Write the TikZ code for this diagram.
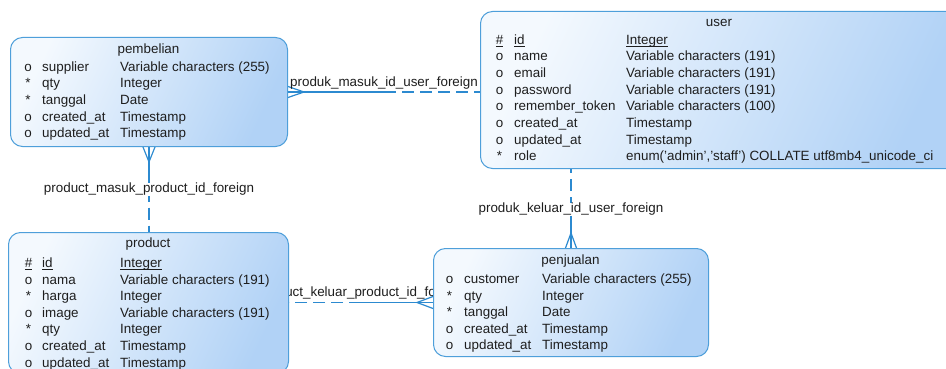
\documentclass[tikz,border=0pt]{standalone}
\usepackage{fontspec}
\setmainfont{Liberation Sans}
\usetikzlibrary{calc}
\definecolor{edgeblue}{HTML}{4E9FDA}
\definecolor{lnkblue}{HTML}{2C8AD0}
\definecolor{boxlight}{HTML}{F4F9FE}
\definecolor{boxdark}{HTML}{B1D2F6}
\definecolor{txt}{HTML}{1E1E1E}
\pgfdeclarelayer{bg}
\pgfsetlayers{bg,main}
\newcommand\pkul[1]{\setbox0\hbox{#1}\rlap{\rule[-2.6pt]{\wd0}{0.7pt}}\box0}
\newcommand\erow[8]{%
  \node[mk] (#1m) at (#2,#5) {#6};
  \node[cell] (#1n) at (#3,#5) {#7};
  \node[cell] (#1t) at (#4,#5) {#8};}
\tikzset{
  entity/.style={draw=edgeblue, line width=1pt, rounded corners=12pt,
    top color=boxlight, bottom color=boxdark, shading angle=65,
    inner sep=0pt, anchor=north west},
  txtbase/.style={inner sep=0pt, text height=9.6pt, text depth=2.8pt,
    font=\fontsize{13.4}{16}\selectfont, text=txt},
  cell/.style={txtbase, anchor=west},
  mk/.style={txtbase, anchor=center},
  ttl/.style={txtbase, anchor=center},
  link/.style={draw=lnkblue, line width=1.2pt},
  optlink/.style={link, dash pattern=on 12pt off 6pt},
  lbl/.style={txtbase, anchor=center, fill=white},
  lblclear/.style={txtbase, anchor=center}
}
\begin{document}
\begin{tikzpicture}[x=1pt,y=-1pt]
\useasboundingbox (0,0) rectangle (946,369);
\clip (0,0) rectangle (946,369);

% entity boxes
\node[entity, minimum width=277pt, minimum height=109pt] (pembelian) at (10,37) {};
\node[entity, minimum width=478pt, minimum height=157pt] (user) at (480,11) {};
\node[entity, minimum width=280pt, minimum height=141pt] (product) at (8,232) {};
\node[entity, minimum width=275pt, minimum height=108pt] (penjualan) at (433,248) {};

% pembelian
\node[ttl] (pbT) at (148.5,50) {pembelian};
\erow{pb1}{28}{42}{120}{68}{o}{supplier}{Variable characters (255)}
\erow{pb2}{28}{42}{120}{84.6}{*}{qty}{Integer}
\erow{pb3}{28}{42}{120}{101.2}{*}{tanggal}{Date}
\erow{pb4}{28}{42}{120}{117.8}{o}{created\_at}{Timestamp}
\erow{pb5}{28}{42}{120}{134.4}{o}{updated\_at}{Timestamp}

% user
\node[ttl] (usT) at (719,23) {user};
\erow{us1}{499.5}{514}{626}{41}{\pkul{\#}}{\pkul{id}}{\pkul{Integer}}
\erow{us2}{499.5}{514}{626}{57.6}{o}{name}{Variable characters (191)}
\erow{us3}{499.5}{514}{626}{74.2}{o}{email}{Variable characters (191)}
\erow{us4}{499.5}{514}{626}{90.8}{o}{password}{Variable characters (191)}
\erow{us5}{499.5}{514}{626}{107.4}{o}{remember\_token}{Variable characters (100)}
\erow{us6}{499.5}{514}{626}{124}{o}{created\_at}{Timestamp}
\erow{us7}{499.5}{514}{626}{140.6}{o}{updated\_at}{Timestamp}
\erow{us8}{499.5}{514}{626}{157.2}{*}{role}{enum('admin','staff') COLLATE utf8mb4\_unicode\_ci}

% product
\node[ttl] (prT) at (148,244) {product};
\erow{pr1}{28.5}{42}{120}{264}{\pkul{\#}}{\pkul{id}}{\pkul{Integer}}
\erow{pr2}{28.5}{42}{120}{280.6}{o}{nama}{Variable characters (191)}
\erow{pr3}{28.5}{42}{120}{297.2}{*}{harga}{Integer}
\erow{pr4}{28.5}{42}{120}{313.8}{o}{image}{Variable characters (191)}
\erow{pr5}{28.5}{42}{120}{330.4}{*}{qty}{Integer}
\erow{pr6}{28.5}{42}{120}{347}{o}{created\_at}{Timestamp}
\erow{pr7}{28.5}{42}{120}{363.6}{o}{updated\_at}{Timestamp}

% penjualan
\node[ttl] (pjT) at (570.5,261) {penjualan};
\erow{pj1}{449.5}{464}{542}{280}{o}{customer}{Variable characters (255)}
\erow{pj2}{449.5}{464}{542}{296.6}{*}{qty}{Integer}
\erow{pj3}{449.5}{464}{542}{313.2}{*}{tanggal}{Date}
\erow{pj4}{449.5}{464}{542}{329.8}{o}{created\_at}{Timestamp}
\erow{pj5}{449.5}{464}{542}{346.4}{o}{updated\_at}{Timestamp}

\begin{pgfonlayer}{bg}
\fill[white] (0,0) rectangle (946,369);
% pembelian -> user
\coordinate (a1) at (pembelian.east);
\coordinate (b1) at (pembelian.east -| user.west);
\coordinate (m1) at ($(a1)!0.5!(b1)$);
\draw[link] (a1) -- (m1);
\draw[optlink] (m1) -- (b1);
\draw[link] ($(a1)+(0,-5.5)$) -- ($(a1)+(16,0)$) -- ($(a1)+(0,5.5)$);
\node[lblclear] (l1) at ($(m1)+(0,-9)$) {produk\_masuk\_id\_user\_foreign};
% pembelian -> product
\coordinate (a2) at (pembelian.south);
\coordinate (b2) at (pembelian.south |- product.north);
\coordinate (m2) at ($(a2)!0.5!(b2)$);
\draw[link] (a2) -- (m2);
\draw[optlink] (m2) -- (b2);
\draw[link] ($(a2)+(-6,0)$) -- ($(a2)+(0,15)$) -- ($(a2)+(6,0)$);
\node[lbl] (l2) at (m2) {product\_masuk\_product\_id\_foreign};
% penjualan -> user
\coordinate (a3) at (penjualan.north);
\coordinate (b3) at (penjualan.north |- user.south);
\coordinate (m3) at ($(a3)!0.5!(b3)$);
\draw[link] (a3) -- (m3);
\draw[optlink] (m3) -- (b3);
\draw[link] ($(a3)+(-5.5,0)$) -- ($(a3)+(0,-15)$) -- ($(a3)+(5.5,0)$);
\node[lbl] (l3) at ($(m3)+(0,1)$) {produk\_keluar\_id\_user\_foreign};
% penjualan -> product
\coordinate (a4) at (penjualan.west);
\coordinate (b4) at (penjualan.west -| product.east);
\coordinate (m4) at ($(a4)!0.5!(b4)$);
\draw[link] (a4) -- (m4);
\draw[optlink] (m4) -- (b4);
\draw[link] ($(a4)+(0,-6)$) -- ($(a4)+(-16,0)$) -- ($(a4)+(0,6)$);
\node[lblclear] (l4) at ($(m4)+(1,-9)$) {product\_keluar\_product\_id\_foreign};
\end{pgfonlayer}
\end{tikzpicture}
\end{document}
